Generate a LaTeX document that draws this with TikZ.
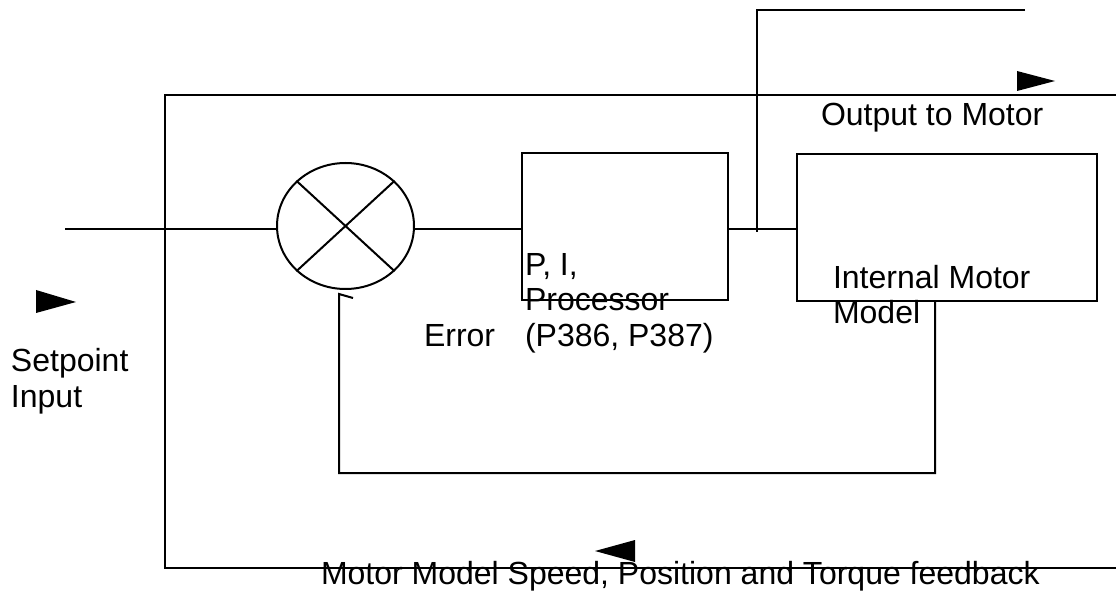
\documentclass[tikz,border=0pt]{standalone}
\usepackage{fontspec}
\setmainfont{Liberation Sans}
\usetikzlibrary{shapes.geometric}
\begin{document}
\begin{tikzpicture}[x=0.75pt,y=-0.75pt,line width=1.5pt,
  lbl/.style={inner sep=0pt,anchor=base west,align=left,font=\fontsize{24}{26.3}\selectfont},
  blk/.style={draw,rectangle,inner sep=0pt,minimum height=110.25pt},
  tri/.style={fill=black,draw=none}]
\useasboundingbox (0,0) rectangle (1116,591);
% blocks
\node[draw,ellipse,inner sep=0pt,minimum width=102.75pt,minimum height=94.5pt] (sum) at (345.5,226) {};
\node[blk,minimum width=154.5pt] (pi) at (625,226.5) {};
\node[blk,minimum width=225pt] (mm) at (947,227.5) {};
% cross in summing junction
\draw (sum.north west) -- (sum.south east);
\draw (sum.north east) -- (sum.south west);
% coordinates
\coordinate (in) at (65,229);
\coordinate (tapT) at (757,10);
\coordinate (topEnd) at (1025,10);
\coordinate (tapB) at (757,232);
\coordinate (oTR) at (1116,95);
\coordinate (oTL) at (165,95);
\coordinate (oBL) at (165,568);
\coordinate (oBR) at (1116,568);
\coordinate (fbR) at (935,473);
\coordinate (fbL) at (339,473);
\coordinate (fbT) at (339,294);
\coordinate (fbTick) at (353,298);
% connectors
\draw (in) -- (in -| sum.west);
\draw (sum.east |- in) -- (pi.west |- in);
\draw (pi.east |- in) -- (mm.west |- in);
\draw (topEnd) -- (tapT) -- (tapB);
\draw (oTR) -- (oTL) -- (oBL) -- (oBR);
\draw (mm.south -| fbR) -- (fbR) -- (fbL) -- (fbT) -- (fbTick);
% arrowheads
\fill[tri] (1017,71) -- (1055,81) -- (1017,91) -- cycle;
\fill[tri] (36,290) -- (76,302) -- (36,313) -- cycle;
\fill[tri] (635,540) -- (595,551) -- (635,562) -- cycle;
% labels (base anchor = baseline of last line)
\node[lbl] (out) at (820,126) {Output to Motor};
\node[lbl] (pit) at (524,346) {P, I,\\Processor\\(P386, P387)};
\node[lbl] (err) at (423,346) {Error};
\node[lbl] (mmt) at (832,324) {Internal Motor\\Model};
\node[lbl] (sp) at (10,407) {Setpoint\\Input};
\node[lbl] (fb) at (320,584) {Motor Model Speed, Position and Torque feedback};
\end{tikzpicture}
\end{document}
